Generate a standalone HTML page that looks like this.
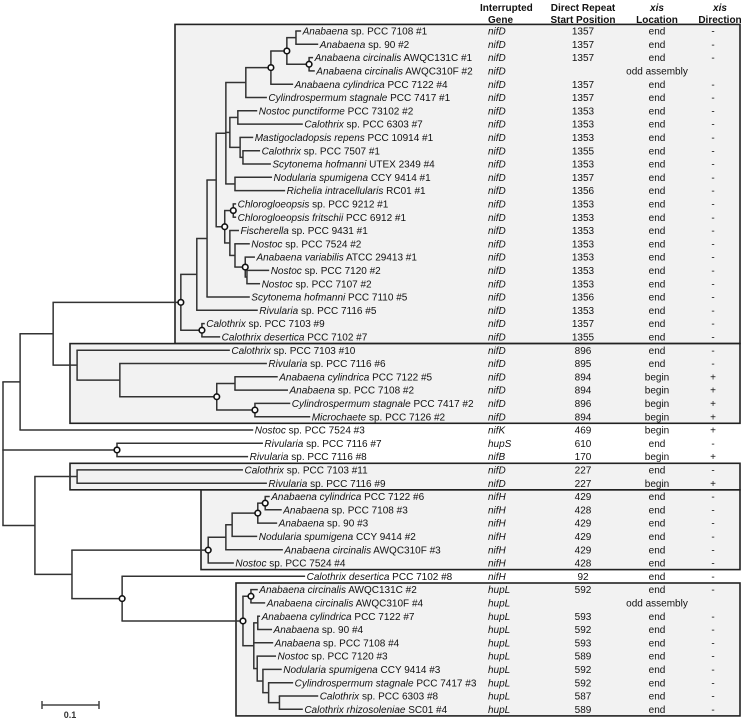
<!DOCTYPE html>
<html><head><meta charset="utf-8"><style>
html,body{margin:0;padding:0;background:#fff;}
svg{display:block;font-family:"Liberation Sans",Arial,sans-serif;}
</style></head><body>
<svg id="chart" width="744" height="719" viewBox="0 0 744 719" xmlns="http://www.w3.org/2000/svg">
<g id="boxes"></g><g id="branches"></g><g id="nodes"></g><g id="labels"></g><g id="table"></g>
<g font-size="10" font-weight="bold" fill="#111">
<text x="480" y="11">Interrupted</text><text x="488" y="23">Gene</text>
<text x="583" y="11" text-anchor="middle">Direct Repeat</text><text x="583" y="23" text-anchor="middle">Start Position</text>
<text x="657" y="11" text-anchor="middle" font-style="italic">xis</text><text x="657" y="23" text-anchor="middle">Location</text>
<text x="720" y="11" text-anchor="middle" font-style="italic">xis</text><text x="720" y="23" text-anchor="middle">Direction</text>
</g>
<g stroke="#444" stroke-width="1.5">
<line x1="42" y1="705" x2="99" y2="705"/><line x1="42" y1="701" x2="42" y2="709"/><line x1="99" y1="701" x2="99" y2="709"/>
</g>
<text x="70" y="718" font-size="9" font-weight="bold" text-anchor="middle" fill="#333">0.1</text>
</svg>
<script>
const labels = [
["Anabaena"," sp. PCC 7108 #1"],["Anabaena"," sp. 90 #2"],["Anabaena circinalis"," AWQC131C #1"],["Anabaena circinalis"," AWQC310F #2"],
["Anabaena cylindrica"," PCC 7122 #4"],["Cylindrospermum stagnale"," PCC 7417 #1"],["Nostoc punctiforme"," PCC 73102 #2"],["Calothrix"," sp. PCC 6303 #7"],
["Mastigocladopsis repens"," PCC 10914 #1"],["Calothrix"," sp. PCC 7507 #1"],["Scytonema hofmanni"," UTEX 2349 #4"],["Nodularia spumigena"," CCY 9414 #1"],
["Richelia intracellularis"," RC01 #1"],["Chlorogloeopsis"," sp. PCC 9212 #1"],["Chlorogloeopsis fritschii"," PCC 6912 #1"],["Fischerella"," sp. PCC 9431 #1"],
["Nostoc"," sp. PCC 7524 #2"],["Anabaena variabilis"," ATCC 29413 #1"],["Nostoc"," sp. PCC 7120 #2"],["Nostoc"," sp. PCC 7107 #2"],
["Scytonema hofmanni"," PCC 7110 #5"],["Rivularia"," sp. PCC 7116 #5"],["Calothrix"," sp. PCC 7103 #9"],["Calothrix desertica"," PCC 7102 #7"],
["Calothrix"," sp. PCC 7103 #10"],["Rivularia"," sp. PCC 7116 #6"],["Anabaena cylindrica"," PCC 7122 #5"],["Anabaena"," sp. PCC 7108 #2"],
["Cylindrospermum stagnale"," PCC 7417 #2"],["Microchaete"," sp. PCC 7126 #2"],["Nostoc"," sp. PCC 7524 #3"],["Rivularia"," sp. PCC 7116 #7"],
["Rivularia"," sp. PCC 7116 #8"],["Calothrix"," sp. PCC 7103 #11"],["Rivularia"," sp. PCC 7116 #9"],["Anabaena cylindrica"," PCC 7122 #6"],
["Anabaena"," sp. PCC 7108 #3"],["Anabaena"," sp. 90 #3"],["Nodularia spumigena"," CCY 9414 #2"],["Anabaena circinalis"," AWQC310F #3"],
["Nostoc"," sp. PCC 7524 #4"],["Calothrix desertica"," PCC 7102 #8"],["Anabaena circinalis"," AWQC131C #2"],["Anabaena circinalis"," AWQC310F #4"],
["Anabaena cylindrica"," PCC 7122 #7"],["Anabaena"," sp. 90 #4"],["Anabaena"," sp. PCC 7108 #4"],["Nostoc"," sp. PCC 7120 #3"],
["Nodularia spumigena"," CCY 9414 #3"],["Cylindrospermum stagnale"," PCC 7417 #3"],["Calothrix"," sp. PCC 6303 #8"],["Calothrix rhizosoleniae"," SC01 #4"]];
const genes = ["nifD","nifD","nifD","nifD","nifD","nifD","nifD","nifD","nifD","nifD","nifD","nifD","nifD","nifD","nifD","nifD","nifD","nifD","nifD","nifD","nifD","nifD","nifD","nifD",
"nifD","nifD","nifD","nifD","nifD","nifD","nifK","hupS","nifB","nifD","nifD","nifH","nifH","nifH","nifH","nifH","nifH","nifH",
"hupL","hupL","hupL","hupL","hupL","hupL","hupL","hupL","hupL","hupL"];
const repeatStart = [1357,1357,1357,null,1357,1357,1353,1353,1353,1355,1353,1357,1356,1353,1353,1353,1353,1353,1353,1353,1356,1353,1357,1355,
896,895,894,894,896,894,469,610,170,227,227,429,428,429,429,429,428,92,592,null,593,592,593,589,592,592,587,589];
const xisLocation = ["end","end","end","odd assembly","end","end","end","end","end","end","end","end","end","end","end","end","end","end","end","end","end","end","end","end",
"end","end","begin","begin","begin","begin","begin","end","begin","end","begin","end","end","end","end","end","end","end","end","odd assembly","end","end","end","end","end","end","end","end"];
const xisDirection = ["-","-","-","","-","-","-","-","-","-","-","-","-","-","-","-","-","-","-","-","-","-","-","-",
"-","-","+","+","+","+","+","-","+","-","+","-","-","-","-","-","-","-","-","","-","-","-","-","-","-","-","-"];
// boxes: [firstRow, lastRow, leftEdgePx]
const boxes = [[0,23,175],[24,29,70],[33,34,70],[35,40,201],[42,51,236]];
// tree: internal nodes {d: depth (subst/site), b: support circle, c: children}; leaves {d, r: row}
function L(r,d){return {r:r,d:d};}
function N(d,c,b){return {d:d,c:c,b:!!b};}
const tree = N(0,[
 N(0.030,[
  N(0.088,[
   N(0.312,[
    N(0.340,[
     N(0.358,[
      N(0.374,[
       N(0.391,[
        N(0.426,[
         N(0.470,[
          N(0.498,[ N(0.514,[L(0,0.523),L(1,0.553)]), N(0.537,[L(2,0.544),L(3,0.547)],1) ],1),
          L(4,0.509)
         ],1),
         L(5,0.463)
        ]),
        N(0.398,[ N(0.412,[L(6,0.446),L(7,0.526)]), N(0.416,[L(8,0.439), N(0.421,[L(9,0.451),L(10,0.470)])]) ]),
        N(0.407,[L(11,0.472),L(12,0.495)])
       ]),
       N(0.389,[
        N(0.404,[L(13,0.409),L(14,0.409)],1),
        N(0.398,[L(15,0.414), N(0.407,[L(16,0.433), N(0.425,[L(17,0.442), N(0.428,[L(18,0.467),L(19,0.451)])],1)])])
       ],1)
      ]),
      L(20,0.433)
     ]),
     L(21,0.447)
    ]),
    N(0.349,[L(22,0.354),L(23,0.381)],1)
   ],1),
   N(0.130,[L(24,0.398), N(0.205,[L(25,0.463), N(0.375,[ N(0.407,[L(26,0.482),L(27,0.500)]), N(0.442,[L(28,0.504),L(29,0.539)],1) ],1)])])
  ]),
  L(30,0.439)
 ]),
 N(0.200,[L(31,0.456),L(32,0.430)],1),
 N(0.056,[
  N(0.130,[L(33,0.421),L(34,0.463)]),
  N(0.121,[
   N(0.360,[ N(0.391,[ N(0.402,[ N(0.447,[ N(0.460,[L(35,0.468),L(36,0.489)],1), L(37,0.481)],1), L(38,0.446)]), L(39,0.491)]), L(40,0.405)],1),
   N(0.209,[ L(41,0.530),
    N(0.421,[ N(0.435,[L(42,0.447),L(43,0.460)],1),
     N(0.440,[ N(0.447,[L(44,0.451),L(45,0.472)]), L(46,0.474),
      N(0.446,[ L(47,0.479), N(0.456,[ L(48,0.489), N(0.466,[ L(49,0.509), N(0.485,[L(50,0.553),L(51,0.526)]) ]) ]) ]) ]) ],1)
   ],1)
  ])
 ])
]);
const NS="http://www.w3.org/2000/svg";
const x0=3, pxPerUnit=570, rowY0=31, rowStep=13.3, boxRight=740;
const xScale = d => x0 + d*pxPerUnit;
const yScale = r => rowY0 + r*rowStep;
function mk(tag,attrs,parent){const e=document.createElementNS(NS,tag);for(const k in attrs)e.setAttribute(k,attrs[k]);parent.appendChild(e);return e;}
const gB=document.getElementById('boxes'),gL=document.getElementById('branches'),gN=document.getElementById('nodes'),gT=document.getElementById('labels'),gTab=document.getElementById('table');
boxes.forEach(b=>{
  const r=mk('rect',{x:b[2],y:yScale(b[0])-6.6,width:boxRight-b[2],height:yScale(b[1])-yScale(b[0])+13.2,fill:'#f2f2f2',stroke:'#222','stroke-width':1.6},gB);
  
  
});
function layout(n){ if(n.c){n.c.forEach(layout);n.y=(n.c[0].y+n.c[n.c.length-1].y)/2;} else n.y=yScale(n.r); n.x=xScale(n.d); }
layout(tree);
function draw(n){
  if(!n.c) return;
  const v=mk('line',{x1:n.x,y1:n.c[0].y,x2:n.x,y2:n.c[n.c.length-1].y,stroke:'#333','stroke-width':1.5},gL);
  
  
  n.c.forEach(ch=>{
    const h=mk('line',{x1:n.x-0.7,y1:ch.y,x2:ch.x,y2:ch.y,stroke:'#333','stroke-width':1.5},gL);
    
    
    draw(ch);
  });
  if(n.b){
    const c=mk('circle',{cx:n.x,cy:n.y,r:2.8,fill:'#fff',stroke:'#111','stroke-width':1.6},gN);
    
    
  }
}
draw(tree);
function leaves(n,out){ if(n.c) n.c.forEach(ch=>leaves(ch,out)); else out.push(n); return out; }
leaves(tree,[]).forEach(lf=>{
  const t=mk('text',{x:lf.x+1.5,y:lf.y+3.6,'font-size':10,fill:'#111'},gT);
  
  
  const it=mk('tspan',{'font-style':'italic'},t); it.textContent=labels[lf.r][0];
  const rs=mk('tspan',{},t); rs.textContent=labels[lf.r][1];
});
genes.forEach((g,i)=>{
  const y=yScale(i)+3.6;
  const gt=mk('text',{x:488,y:y,'font-size':10,'font-style':'italic',fill:'#111'},gTab);
  
  
  gt.textContent=g;
  if(repeatStart[i]!==null){
    const nt=mk('text',{x:583,y:y,'font-size':10,'text-anchor':'middle',fill:'#111'},gTab);
    
    
    nt.textContent=repeatStart[i];
  }
  const lt=mk('text',{x:657,y:y,'font-size':10,'text-anchor':'middle',fill:'#111'},gTab);
  
  
  lt.textContent=xisLocation[i];
  if(xisDirection[i]){
    const dt=mk('text',{x:713,y:y,'font-size':10,'text-anchor':'middle',fill:'#111'},gTab);
    
    
    dt.textContent=xisDirection[i];
  }
});
</script>
</body></html>
